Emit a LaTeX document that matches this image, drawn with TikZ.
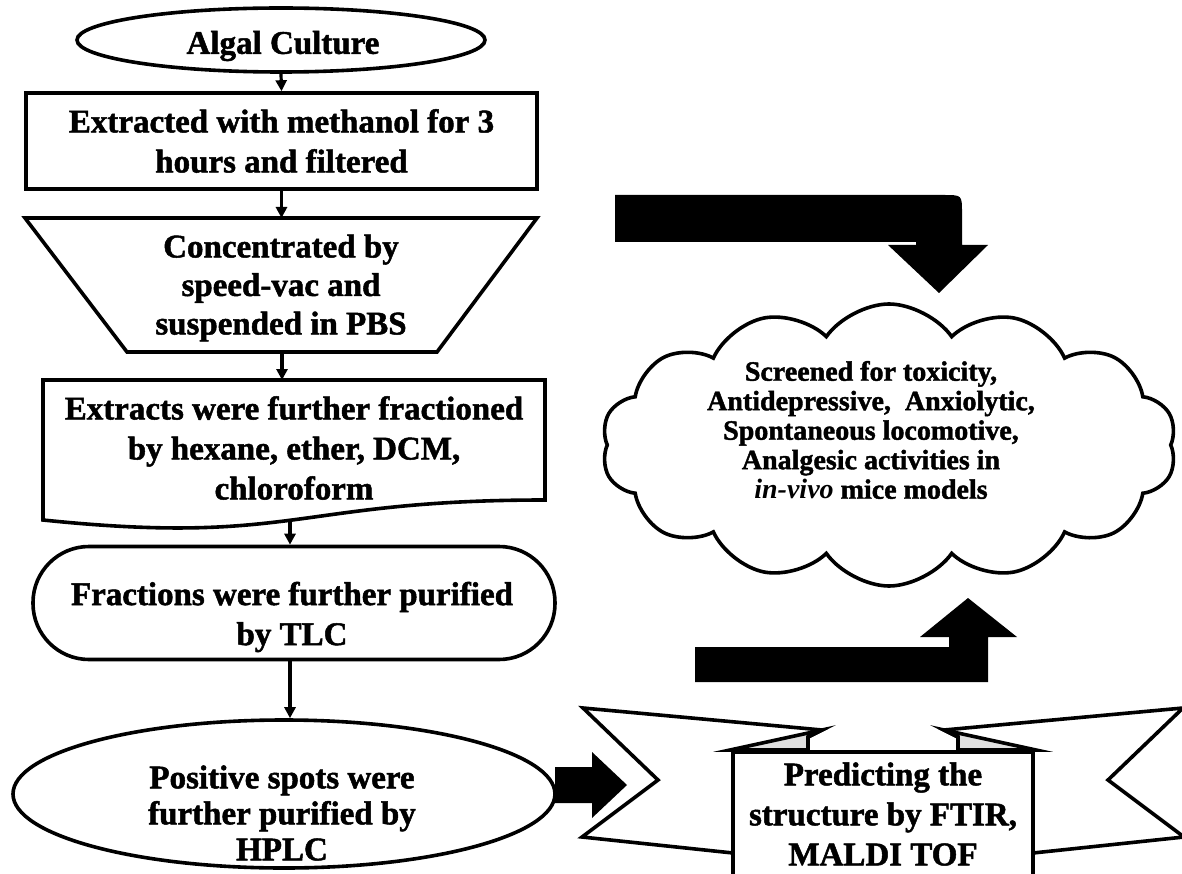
\documentclass[tikz,border=0pt]{standalone}
\usepackage{fontspec}
\setmainfont{Liberation Serif}[BoldFeatures={FakeBold=1.5}]
\usetikzlibrary{arrows.meta, positioning, shapes.geometric, shapes.symbols}

\begin{document}
\begin{tikzpicture}[x=1pt, y=-1pt,
  outline/.style={draw, line width=3.6pt, inner sep=0pt},
  lbl/.style={align=center, font=\fontsize{33}{40}\selectfont\bfseries, inner sep=0pt},
  small/.style={align=center, font=\fontsize{28}{29.5}\selectfont\bfseries, inner sep=0pt},
  flow/.style={-{Triangle[length=11pt,width=11pt]}, line width=3.2pt},
  blk/.style={fill=black}]

\useasboundingbox (0,0) rectangle (1182,874);
\clip (0,0) rectangle (1182,874);

% left column
\node[outline, ellipse, minimum width=408pt, minimum height=64pt] (alg) at (281,40) {};
\node[lbl] (algtxt) at (283,46) {Algal Culture};

\node[outline, rectangle, minimum width=511pt, minimum height=96pt, lbl] (extr) at (281.5,141)
  {Extracted with methanol for 3\\hours and filtered};

\draw[outline] (25,218) -- (537,218) -- (437,352) -- (127,352) -- cycle;
\coordinate (conctop) at (281.5,218);
\coordinate (concbot) at (282,352);
\node[lbl, font=\fontsize{33}{38.5}\selectfont\bfseries] (conc) at (281,288) {Concentrated by\\speed-vac and\\suspended in PBS};

\draw[outline] (43,380) -- (545,380) -- (545,500) .. controls (294,500) and (294,546) .. (43,520) -- cycle;
\coordinate (fractop) at (282,380);
\coordinate (fracbot) at (290,521);
\node[lbl] (frac) at (294,448) {Extracts were further fractioned\\by hexane, ether, DCM,\\chloroform};

\node[outline, rectangle, rounded corners=56pt, minimum width=522pt, minimum height=113pt] (tlc) at (294,603) {};
\node[lbl] (tlctxt) at (292,617) {Fractions were further purified\\by TLC};

\node[outline, ellipse, minimum width=542pt, minimum height=148pt] (hplc) at (284,794) {};
\node[lbl, font=\fontsize{33}{36}\selectfont\bfseries] (hplctxt) at (282,813)
  {Positive spots were\\further purified by\\HPLC};

\draw[flow] (alg.south) -- (extr.north);
\draw[flow] (extr.south) -- (conctop);
\draw[flow] (concbot) -- (fractop);
\draw[flow] (fracbot) -- (fracbot |- tlc.north);
\draw[flow] (fracbot |- tlc.south) -- (fracbot |- hplc.north);

% block arrows
\fill[blk] (555,767) -- (592,767) -- (592,752) -- (627,785) -- (592,818) -- (592,803) -- (555,803) -- cycle;
\fill[blk] (615,195) -- (944,195) .. controls (962,195) .. (962,213) -- (962,245) -- (988,245)
  -- (939,293) -- (888,245) -- (916,245) -- (916,242) -- (615,242) -- cycle;
\fill[blk] (695,647) -- (949,647) -- (949,637) -- (920,637) -- (968,598) -- (1017,637)
  -- (988,637) -- (988,682) -- (695,682) -- cycle;

% cloud
\node[outline, cloud, cloud puffs=14, cloud puff arc=110, cloud ignores aspect, minimum width=575pt, minimum height=282pt] (screen) at (889,445) {};
\node[small] (screentxt) at (871,430) {Screened for toxicity,\\Antidepressive,\ \ Anxiolytic,\\Spontaneous locomotive,\\Analgesic activities in\\\textit{in-vivo} mice models};

% ribbon
\draw[outline, fill=white] (583,708) -- (822,730) -- (808,737) -- (808,853) -- (733,853) -- (582,837) -- (658,780) -- cycle;
\draw[outline, fill=white] (1183,708) -- (944,730) -- (958,737) -- (958,853) -- (1033,853) -- (1184,837) -- (1108,780) -- cycle;
\draw[outline, fill=gray!25] (730,750) -- (822,730) -- (808,737) -- (808,750) -- cycle;
\draw[outline, fill=gray!25] (1036,750) -- (944,730) -- (958,737) -- (958,750) -- cycle;
\node[outline, rectangle, fill=white, minimum width=300pt, minimum height=160pt, anchor=north] (pred) at (883,750) {};
\node[lbl, font=\fontsize{33}{40}\selectfont\bfseries] (predtxt) at (883,814) {Predicting the\\structure by FTIR,\\MALDI TOF};
\end{tikzpicture}
\end{document}
